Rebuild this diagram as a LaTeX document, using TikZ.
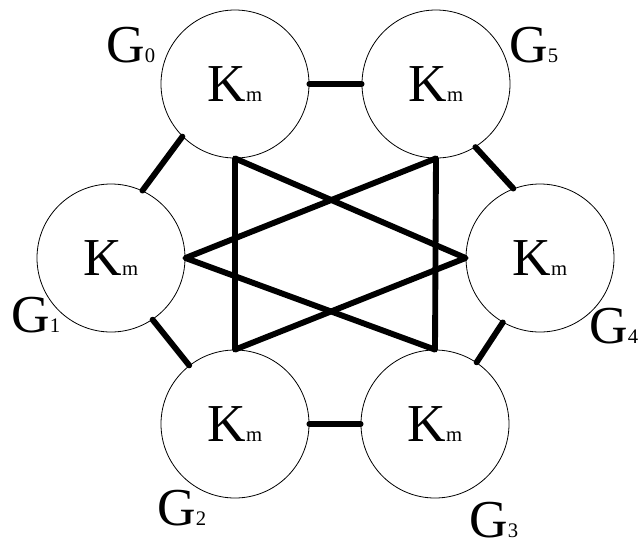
\documentclass[tikz,border=0pt]{standalone}
\usepackage{fontspec}
\setmainfont{Liberation Serif}
\usetikzlibrary{positioning}
\newcommand{\Km}{{\fontsize{40}{42}\selectfont K}{\fontsize{15.5}{17}\selectfont m}}
\newcommand{\Glbl}[1]{{\fontsize{40}{42}\selectfont G}{\fontsize{15.5}{17}\selectfont #1}}

\begin{document}
\begin{tikzpicture}[
    x=0.75pt, y=-0.75pt,
    blob/.style={circle, draw, line width=0.6pt, minimum size=111pt, inner sep=0pt},
    link/.style={line width=4.4pt, line cap=round, line join=round},
    glabel/.style={anchor=base west, inner sep=0pt}
]
\useasboundingbox (0,0) rectangle (640,544);
% Cliques
\node[blob] (g0) at (235,84) {\Km};
\node[blob] (g5) at (436,84) {\Km};
\node[blob] (g1) at (111,258) {\Km};
\node[blob] (g4) at (540,258) {\Km};
\node[blob] (g2) at (235,424) {\Km};
\node[blob] (g3) at (435,424) {\Km};
% Names
\node[glabel] (l0) at (106,62) {\Glbl{0}};
\node[glabel] (l5) at (509,62) {\Glbl{5}};
\node[glabel] (l1) at (11,332) {\Glbl{1}};
\node[glabel] (l4) at (589,343) {\Glbl{4}};
\node[glabel] (l2) at (157,525) {\Glbl{2}};
\node[glabel] (l3) at (469,537) {\Glbl{3}};
% Ring edges
\draw[link] (g0.east) -- (g5.west);
\draw[link] (g0.225) -- (g1.65);
\draw[link] (g1.-56) -- (g2.128);
\draw[link] (g2.east) -- (g3.west);
\draw[link] (g3.56) -- (g4.240);
\draw[link] (g4.111) -- (g5.-58);
% Star
\draw[link] (g1.east) -- (g5.south) -- (g3.north) -- cycle;
\draw[link] (g4.west) -- (g0.south) -- (g2.north) -- cycle;
\end{tikzpicture}
\end{document}
